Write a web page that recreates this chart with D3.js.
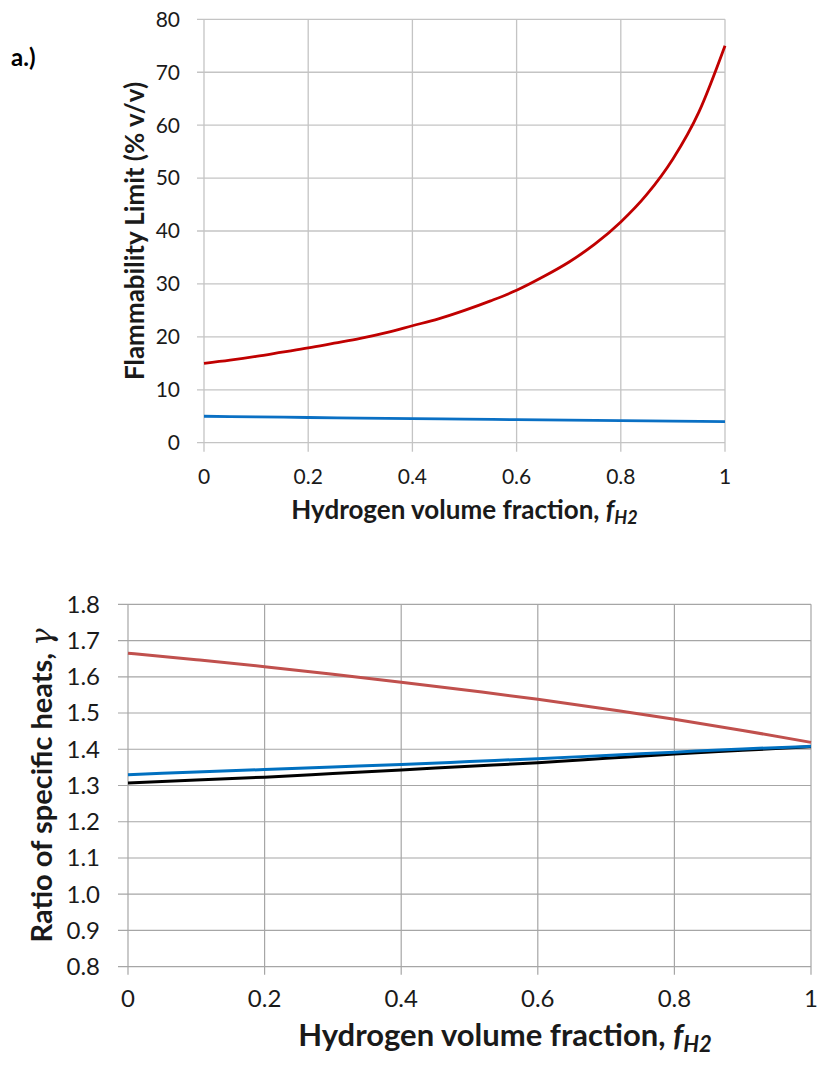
<!DOCTYPE html>
<html>
<head>
<meta charset="utf-8">
<script src="https://cdn.jsdelivr.net/npm/d3@7"></script>
<style>
  html, body { margin: 0; padding: 0; background: #fff; }
  svg { display: block; }
  text { font-family: Lato, "Open Sans", sans-serif; fill: #1a1a1a; }
</style>
</head>
<body>
<svg id="fig" width="820" height="1068"></svg>
<script>
// Hydrogen volume fraction (shared x values)
const fH2 = [0, 0.05, 0.1, 0.15, 0.2, 0.25, 0.3, 0.35, 0.4, 0.45, 0.5,
             0.55, 0.6, 0.65, 0.7, 0.75, 0.8, 0.85, 0.9, 0.95, 1];
const fH2Coarse = [0, 0.1, 0.2, 0.3, 0.4, 0.5, 0.6, 0.7, 0.8, 0.9, 1];

// Panel a: flammability limits (% v/v)
const upperLimit = [15.0, 15.6, 16.3, 17.1, 17.9, 18.8, 19.7, 20.8, 22.1, 23.4, 25.0,
                    26.8, 28.8, 31.3, 34.1, 37.5, 41.7, 46.9, 53.6, 62.5, 75.0];
const lowerLimit = [5.0, 4.88, 4.76, 4.65, 4.55, 4.44, 4.35, 4.26, 4.17, 4.08, 4.0];

// Panel b: ratio of specific heats
const gammaRed   = [1.665, 1.647, 1.628, 1.607, 1.585, 1.562, 1.538, 1.511, 1.483, 1.452, 1.419];
const gammaBlue  = [1.330, 1.337, 1.344, 1.351, 1.358, 1.366, 1.374, 1.383, 1.392, 1.401, 1.408];
const gammaBlack = [1.307, 1.315, 1.323, 1.333, 1.343, 1.353, 1.363, 1.375, 1.387, 1.397, 1.407];

// Tick values
const xTicks = [0, 0.2, 0.4, 0.6, 0.8, 1];
const flTicks = [0, 10, 20, 30, 40, 50, 60, 70, 80];
const gammaTicks = [0.8, 0.9, 1.0, 1.1, 1.2, 1.3, 1.4, 1.5, 1.6, 1.7, 1.8];

const svg = d3.select("#fig");

// ---------- Panel a ----------
{
  const left = 204, right = 725, top = 19.3, bottom = 442.7;
  const x = d3.scaleLinear().domain([0, 1]).range([left, right]);
  const y = d3.scaleLinear().domain([0, 80]).range([bottom, top]);
  const g = svg.append("g");
  const grid = "#c4c4c4";

  // horizontal gridlines with short outward ticks
  g.selectAll("line.hy").data(flTicks).join("line")
    .attr("x1", left - 7).attr("x2", right)
    .attr("y1", d => y(d)).attr("y2", d => y(d))
    .attr("stroke", grid).attr("stroke-width", 1.3);
  // vertical gridlines extending below the axis
  g.selectAll("line.vx").data(xTicks).join("line")
    .attr("x1", d => x(d)).attr("x2", d => x(d))
    .attr("y1", top).attr("y2", bottom + 9)
    .attr("stroke", grid).attr("stroke-width", 1.3);

  g.selectAll("text.yl").data(flTicks).join("text")
    .attr("x", left - 24).attr("y", d => y(d)).attr("dy", "0.35em")
    .attr("text-anchor", "end").attr("font-size", 21)
    .text(d => d);
  g.selectAll("text.xl").data(xTicks).join("text")
    .attr("x", d => x(d)).attr("y", 477).attr("dy", "0.35em")
    .attr("text-anchor", "middle").attr("font-size", 21)
    .text(d => d);

  const line = d3.line().curve(d3.curveMonotoneX);
  g.append("path")
    .attr("d", line(fH2Coarse.map((f, i) => [x(f), y(lowerLimit[i])])))
    .attr("fill", "none").attr("stroke", "#0a70c4").attr("stroke-width", 2.8);
  g.append("path")
    .attr("d", line(fH2.map((f, i) => [x(f), y(upperLimit[i])])))
    .attr("fill", "none").attr("stroke", "#c00000").attr("stroke-width", 2.8);

  // axis titles
  g.append("text")
    .attr("transform", `translate(144,${(top + bottom) / 2}) rotate(-90)`)
    .attr("text-anchor", "middle").attr("font-size", 26).attr("font-weight", "bold")
    .text("Flammability Limit (% v/v)");
  const xt = g.append("text")
    .attr("x", (left + right) / 2).attr("y", 519)
    .attr("text-anchor", "middle").attr("font-size", 26).attr("font-weight", "bold");
  xt.append("tspan").text("Hydrogen volume fraction, ");
  xt.append("tspan").attr("font-style", "italic").text("f");
  xt.append("tspan").attr("font-style", "italic").attr("font-size", 18).attr("dy", 5).text("H2");

  svg.append("text")
    .attr("x", 11).attr("y", 66)
    .attr("font-family", "'Liberation Sans', Arial, sans-serif")
    .attr("font-size", 24).attr("font-weight", "bold").style("fill", "#000")
    .text("a.)");
}

// ---------- Panel b ----------
{
  const left = 128, right = 811, top = 604.3, bottom = 966.7;
  const x = d3.scaleLinear().domain([0, 1]).range([left, right]);
  const y = d3.scaleLinear().domain([0.8, 1.8]).range([bottom, top]);
  const g = svg.append("g");
  const grid = "#a6a6a6";

  g.selectAll("line.hy").data(gammaTicks).join("line")
    .attr("x1", left - 10).attr("x2", right)
    .attr("y1", d => y(d)).attr("y2", d => y(d))
    .attr("stroke", grid).attr("stroke-width", 1.2);
  g.selectAll("line.vx").data(xTicks).join("line")
    .attr("x1", d => x(d)).attr("x2", d => x(d))
    .attr("y1", top).attr("y2", bottom + 8)
    .attr("stroke", grid).attr("stroke-width", 1.2);

  g.selectAll("text.yl").data(gammaTicks).join("text")
    .attr("x", left - 28).attr("y", d => y(d)).attr("dy", "0.35em")
    .attr("text-anchor", "end").attr("font-size", 24)
    .text(d => d.toFixed(1));
  g.selectAll("text.xl").data(xTicks).join("text")
    .attr("x", d => x(d)).attr("y", 999).attr("dy", "0.35em")
    .attr("text-anchor", "middle").attr("font-size", 24)
    .text(d => d);

  const line = d3.line().curve(d3.curveMonotoneX);
  const series = [
    { vals: gammaRed, color: "#c0504d" },
    { vals: gammaBlack, color: "#000000" },
    { vals: gammaBlue, color: "#0070c0" }
  ];
  series.forEach(s => {
    g.append("path")
      .attr("d", line(fH2Coarse.map((f, i) => [x(f), y(s.vals[i])])))
      .attr("fill", "none").attr("stroke", s.color).attr("stroke-width", 3);
  });

  const yt = g.append("text")
    .attr("transform", `translate(52,${(top + bottom) / 2}) rotate(-90)`)
    .attr("text-anchor", "middle").attr("font-size", 29).attr("font-weight", "bold");
  yt.append("tspan").text("Ratio of specific heats, ");
  yt.append("tspan").attr("font-family", "'DejaVu Serif', serif").attr("font-weight", "normal")
    .attr("font-style", "italic").text("γ");

  const xt = g.append("text")
    .attr("x", 505).attr("y", 1046)
    .attr("text-anchor", "middle").attr("font-size", 31).attr("font-weight", "bold");
  xt.append("tspan").text("Hydrogen volume fraction, ");
  xt.append("tspan").attr("font-style", "italic").text("f");
  xt.append("tspan").attr("font-style", "italic").attr("font-size", 22).attr("dy", 6).text("H2");
}
</script>
</body>
</html>
